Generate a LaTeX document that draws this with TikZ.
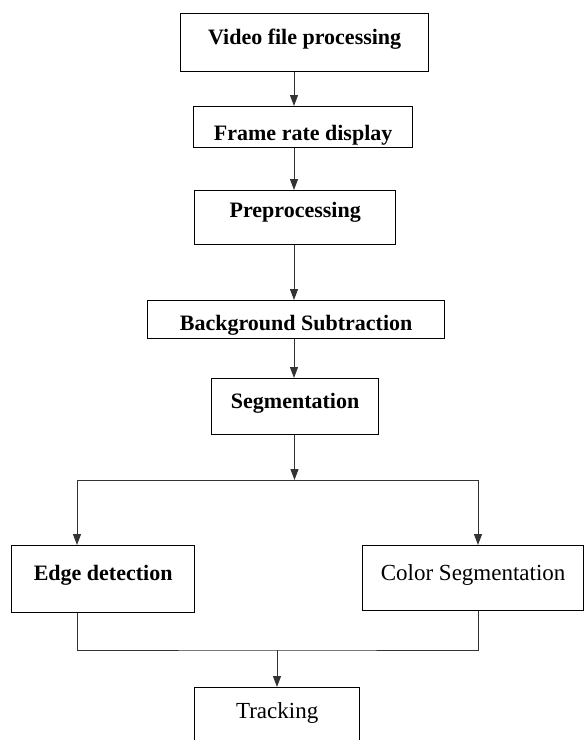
\documentclass[tikz,border=0pt]{standalone}
\usepackage{fontspec}
\setmainfont{Liberation Serif}
\usetikzlibrary{arrows.meta}

\begin{document}
\begin{tikzpicture}[x=1pt, y=-1pt,
    box/.style={draw, line width=1.3pt, inner sep=0pt, font=\fontsize{22}{25}\selectfont\bfseries},
    plainbox/.style={box, font=\fontsize{23}{26}\selectfont},
    link/.style={draw=black!80, line width=1pt},
    arr/.style={link, -{Triangle[length=11pt, width=8pt]}}]
    \clip (0,0) rectangle (584,740);
    \node[box, minimum width=248pt, text height=31pt, text depth=27pt, anchor=north west] at (180,13) (1) {Video file processing};
    \node[box, minimum width=219pt, text height=34pt, text depth=7pt, anchor=north west] at (193,106) (2) {Frame rate display};
    \node[box, minimum width=201pt, text height=27pt, text depth=27pt, anchor=north west] at (194,190) (3) {Preprocessing};
    \node[box, minimum width=297pt, text height=30pt, text depth=8pt, anchor=north west] at (147,300) (4) {Background Subtraction};
    \node[box, minimum width=167pt, text height=30pt, text depth=26pt, anchor=north west] at (211,378) (5) {Segmentation};
    \node[box, minimum width=183pt, text height=35pt, text depth=32pt, anchor=north west] at (11,545) (6) {Edge detection};
    \node[plainbox, minimum width=221pt, text height=35pt, text depth=30pt, anchor=north west] at (362,545) (7) {Color Segmentation};
    \node[plainbox, minimum width=165pt, text height=31pt, text depth=32pt, anchor=north west] at (194,687) (8) {Tracking};
    \coordinate (a) at (294,0);
    \coordinate (s) at (294.5,480);
    \coordinate (l) at (77,480);
    \coordinate (r) at (478,480);
    \coordinate (j) at (277,650);
    \draw[arr] (1.south -| a) -- (2.north -| a);
    \draw[arr] (2.south -| a) -- (3.north -| a);
    \draw[arr] (3.south -| a) -- (4.north -| a);
    \draw[arr] (4.south -| a) -- (5.north -| a);
    \draw[arr] (5.south -| s) -- (s);
    \draw[link] (l) -- (r);
    \draw[arr] (l) -- (6.north -| l);
    \draw[arr] (r) -- (7.north -| r);
    \draw[link] (6.south -| l) |- (j) -| (7.south -| r);
    \draw[arr] (j) -- (8.north -| j);
\end{tikzpicture}
\end{document}
